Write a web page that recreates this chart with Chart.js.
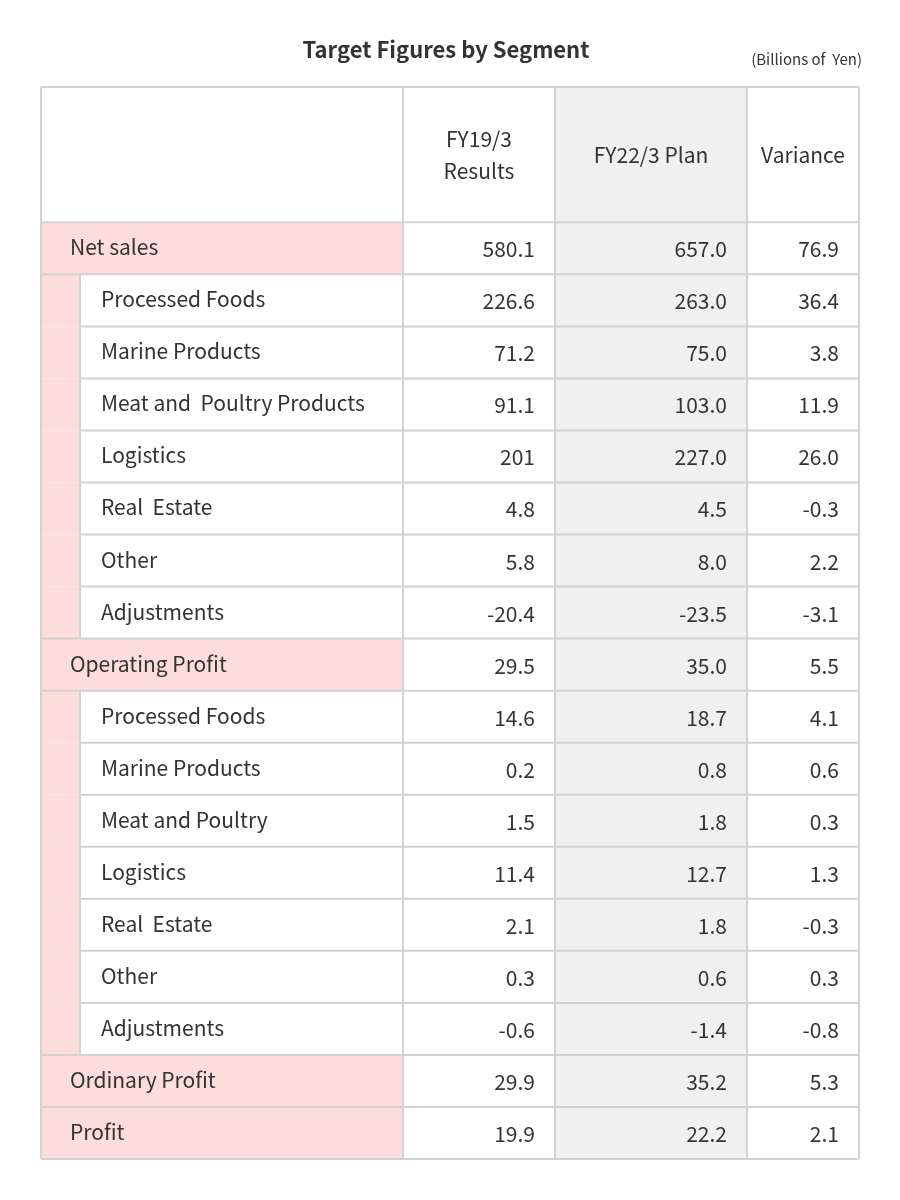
<!DOCTYPE html>
<html>
<head>
<meta charset="utf-8">
<script src="https://cdn.jsdelivr.net/npm/chart.js@4"></script>
<style>
  body { margin: 0; background: #fff; }
  #wrap { width: 900px; height: 1200px; }
</style>
</head>
<body>
<div id="wrap"><canvas id="tableChart" width="900" height="1200"></canvas></div>
<script>
// Table data
const rowLabels = ['Net sales', 'Processed Foods', 'Marine Products', 'Meat and  Poultry Products', 'Logistics', 'Real  Estate', 'Other', 'Adjustments',
  'Operating Profit', 'Processed Foods', 'Marine Products', 'Meat and Poultry', 'Logistics', 'Real  Estate', 'Other', 'Adjustments',
  'Ordinary Profit', 'Profit'];
const rowIsSub = [0, 1, 1, 1, 1, 1, 1, 1, 0, 1, 1, 1, 1, 1, 1, 1, 0, 0];
const fy19Results = ['580.1', '226.6', '71.2', '91.1', '201', '4.8', '5.8', '-20.4', '29.5', '14.6', '0.2', '1.5', '11.4', '2.1', '0.3', '-0.6', '29.9', '19.9'];
const fy22Plan = ['657.0', '263.0', '75.0', '103.0', '227.0', '4.5', '8.0', '-23.5', '35.0', '18.7', '0.8', '1.8', '12.7', '1.8', '0.6', '-1.4', '35.2', '22.2'];
const variance = ['76.9', '36.4', '3.8', '11.9', '26.0', '-0.3', '2.2', '-3.1', '5.5', '4.1', '0.6', '0.3', '1.3', '-0.3', '0.3', '-0.8', '5.3', '2.1'];
const columnHeaders = [[''], ['FY19/3', 'Results'], ['FY22/3 Plan'], ['Variance']];

// Layout (x scale units, y scale units)
const colEdges = [0, 362, 514, 706, 818];
const indentEdge = 39;
const headerTop = -2.6;

const FONT = '"Noto Sans CJK JP", "Noto Sans", sans-serif';
const border = '#d2d2d2';
const pink = '#fddcdc';
const gray = '#f0f0f0';
const textCol = '#333';

const tablePlugin = {
    id: 'tablePlugin',
    afterDraw(chart) {
        const ctx = chart.ctx;
        const xs = chart.scales.x, ys = chart.scales.y;
        const X = v => xs.getPixelForValue(v);
        const Y = v => ys.getPixelForValue(v);
        const n = rowLabels.length;
        ctx.save();

        // Title
        ctx.fillStyle = textCol;
        ctx.textBaseline = 'middle';
        ctx.textAlign = 'center';
        ctx.font = 'bold 22px ' + FONT;
        ctx.fillText('Target Figures by Segment', 446, 50);
        ctx.font = '15px ' + FONT;
        ctx.textAlign = 'right';
        ctx.fillText('(Billions of  Yen)', 862, 59);

        // Gray plan column
        ctx.fillStyle = gray;
        ctx.fillRect(X(colEdges[2]), Y(headerTop), X(colEdges[3]) - X(colEdges[2]), Y(n) - Y(headerTop));

        // Pink cells
        ctx.fillStyle = pink;
        rowLabels.forEach((lab, i) => {
            const right = rowIsSub[i] ? indentEdge : colEdges[1];
            ctx.fillRect(X(0), Y(i), X(right) - X(0), Y(i + 1) - Y(i));
        });

        // Grid lines
        ctx.strokeStyle = border;
        ctx.lineWidth = 2;
        ctx.beginPath();
        for (let i = 0; i <= n; i++) {
            const sub = (i > 0 && i < n && rowIsSub[i] && rowIsSub[i - 1]) || (i < n && rowIsSub[i] && i > 0 && rowIsSub[i - 1]);
            const startX = (i > 0 && i < n && rowIsSub[i] && rowIsSub[i - 1]) ? indentEdge : 0;
            ctx.moveTo(X(startX), Y(i));
            ctx.lineTo(X(colEdges[4]), Y(i));
        }
        ctx.moveTo(X(0), Y(headerTop));
        ctx.lineTo(X(colEdges[4]), Y(headerTop));
        colEdges.forEach(e => {
            ctx.moveTo(X(e), Y(headerTop));
            ctx.lineTo(X(e), Y(n));
        });
        rowLabels.forEach((lab, i) => {
            if (rowIsSub[i]) {
                ctx.moveTo(X(indentEdge), Y(i));
                ctx.lineTo(X(indentEdge), Y(i + 1));
            }
        });
        ctx.stroke();

        // Header text
        ctx.fillStyle = textCol;
        ctx.font = '21px ' + FONT;
        ctx.textAlign = 'center';
        columnHeaders.forEach((lines, c) => {
            const cx = (X(colEdges[c]) + X(colEdges[c + 1])) / 2;
            const cy = (Y(headerTop) + Y(0)) / 2;
            lines.forEach((t, k) => {
                ctx.fillText(t, cx, cy + (k - (lines.length - 1) / 2) * 32);
            });
        });

        // Body text
        const cols = [fy19Results, fy22Plan, variance];
        rowLabels.forEach((lab, i) => {
            const cy = (Y(i) + Y(i + 1)) / 2;
            ctx.textAlign = 'left';
            ctx.fillText(lab, X(rowIsSub[i] ? 60 : 29), cy - 1);
            ctx.textAlign = 'right';
            cols.forEach((arr, c) => {
                ctx.fillText(arr[i], X(colEdges[c + 2]) - 20, cy + 1);
            });
        });
        ctx.restore();
    }
};

new Chart(document.getElementById('tableChart'), {
    type: 'scatter',
    data: { datasets: [{ data: [] }] },
    options: {
        responsive: false,
        animation: false,
        layout: { padding: { top: 87, bottom: 41, left: 41, right: 41 } },
        plugins: { legend: { display: false }, tooltip: { enabled: false } },
        scales: {
            x: { type: 'linear', min: colEdges[0], max: colEdges[4], display: false },
            y: { type: 'linear', min: headerTop, max: rowLabels.length, reverse: true, display: false }
        }
    },
    plugins: [tablePlugin]
});
</script>
</body>
</html>
